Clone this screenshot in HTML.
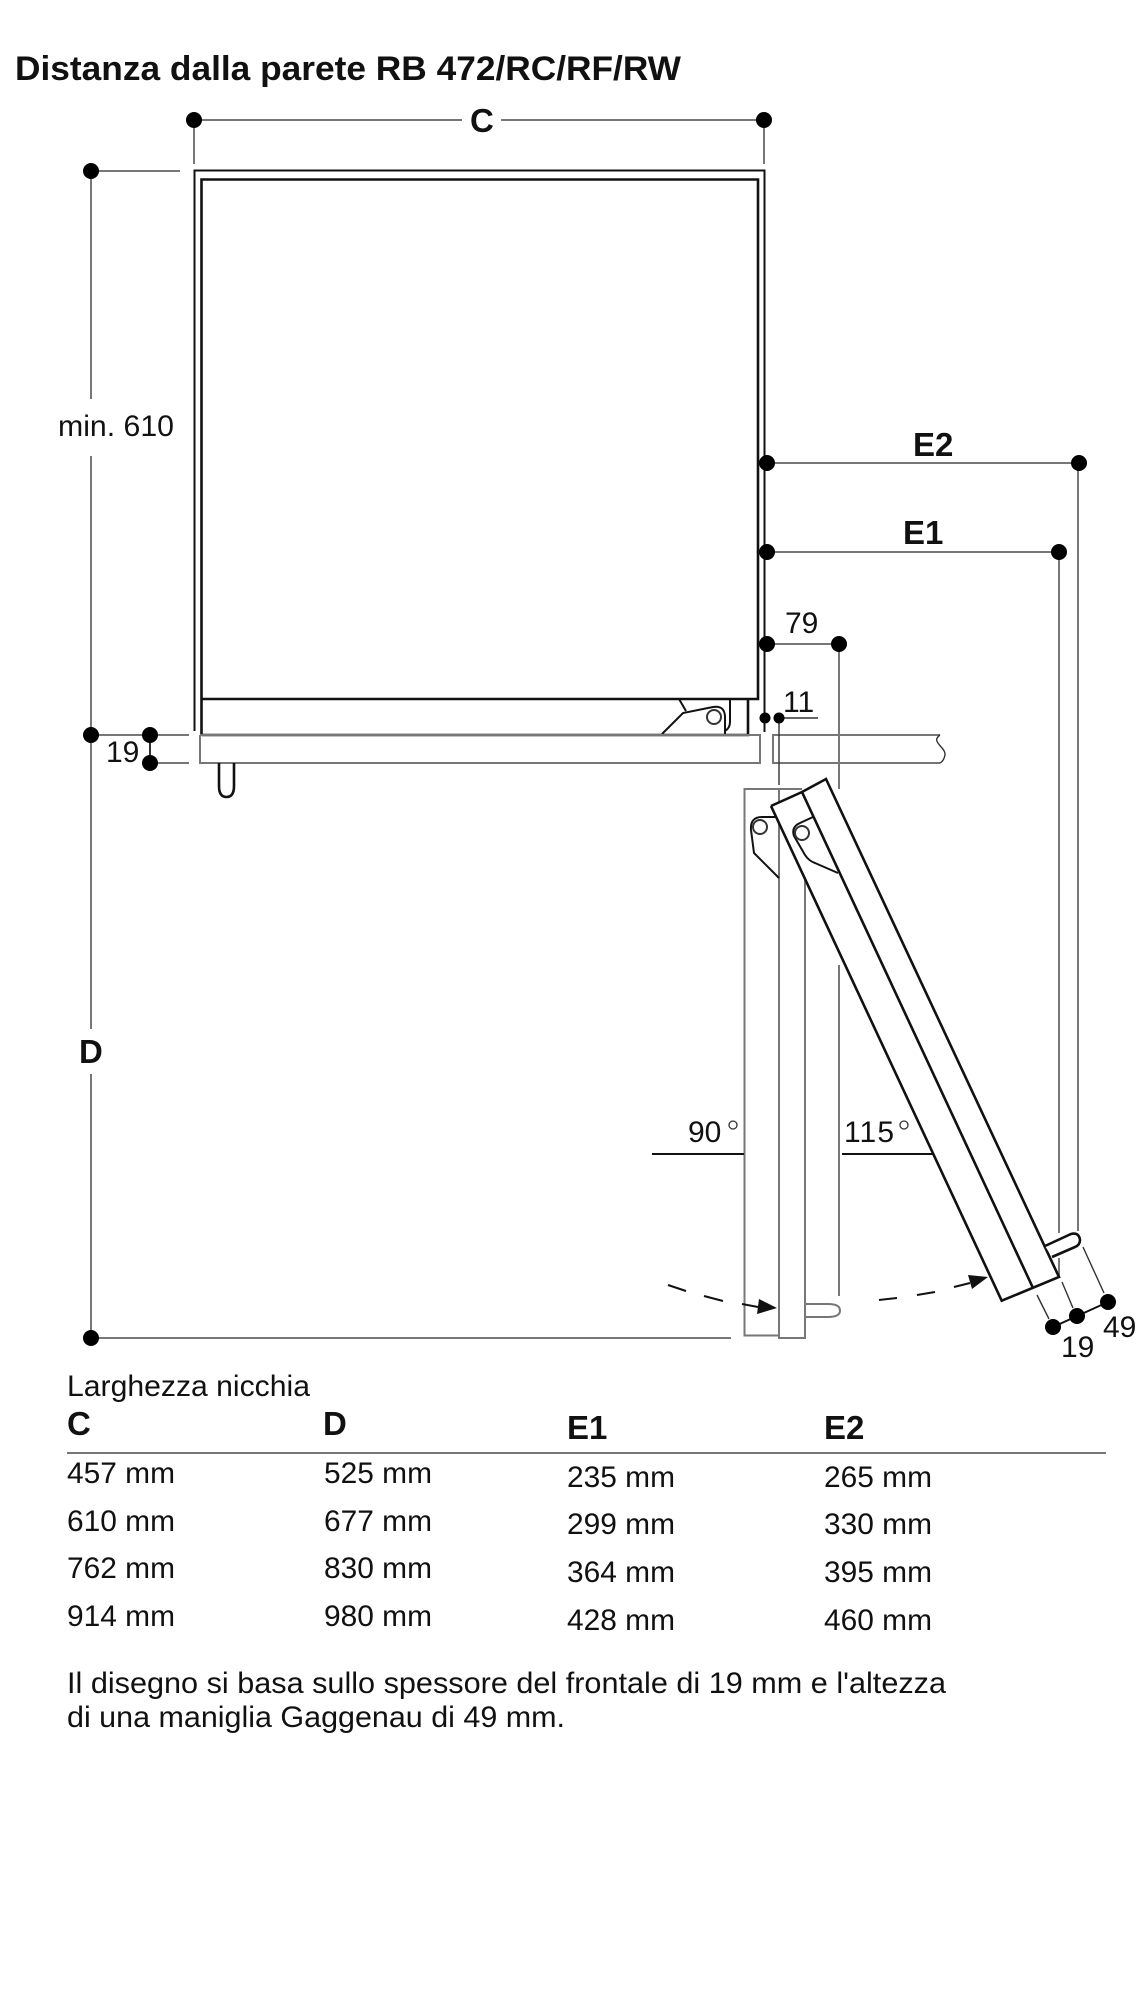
<!DOCTYPE html>
<html lang="it"><head><meta charset="utf-8"><title>Distanza dalla parete</title>
<style>html,body{margin:0;padding:0;background:#fff}svg{display:block}
text{font-family:"Liberation Sans",Arial,sans-serif;fill:#111}
.t{font-size:30px}.h{font-size:33px;font-weight:bold}
.g{stroke:#777;stroke-width:2;fill:none}.k{stroke:#111;stroke-width:2.6;fill:none}.m{stroke:#333;stroke-width:2;fill:none}
.k2{stroke-width:2}.m1{stroke-width:1.4}
</style></head><body>
<svg xmlns="http://www.w3.org/2000/svg" width="1148" height="2000" viewBox="0 0 1148 2000">
<rect width="1148" height="2000" fill="#fff"/>
<text x="15" y="80" font-size="34" font-weight="bold" textLength="666" lengthAdjust="spacingAndGlyphs">Distanza dalla parete RB 472/RC/RF/RW</text>

<!-- dimension C -->
<path class="g" d="M194 120H462M501 120H764M194 120V164M764 120V164"/>
<text x="470" y="132" class="h">C</text>
<!-- dimension D / min -->
<path class="g" d="M91 171H180M91 171V399M91 456V1029M91 1074V1338M91 1338H731M91 735H189M150 763H189"/>
<path class="m" d="M150 735V763"/>
<text x="58" y="436" class="t" textLength="116" lengthAdjust="spacingAndGlyphs">min. 610</text>
<text x="79" y="1063" class="h">D</text>
<text x="106" y="762" class="t">19</text>

<!-- cabinet -->
<path class="k k2" d="M194.500 731V170.500H764.500V732"/>
<path class="k" d="M201.500 734V179.500H758V699H201.500"/>
<path class="k" d="M201.500 735H748V699"/>
<path class="k k2" d="M662 734L683 713L713 707Q724 705 725 716V735M679 699L686 711M730 700V722Q730 728 725 731"/>
<circle cx="714" cy="717" r="7" fill="#fff" class="m"/>

<!-- worktop -->
<path class="g" d="M200 735V763H760V735H200M940 735H773V763H940"/>
<path class="m m1" d="M940 735C930 742 946 747 945 755C944 760 942 762 940 763"/>
<path class="k" d="M219 763V786Q219 797 226.500 797Q234 797 234 786V763"/>

<!-- E dims and others -->
<path class="g" d="M767 463H1078V1231M767 552H1059V1233M1059 1258V1277M767 644H839V789M839 965V1296"/>
<path class="m m1" d="M779 718H818M779 718V785"/>
<text x="903" y="544" class="h">E1</text>
<text x="913" y="456" class="h">E2</text>
<text x="785" y="633" class="t">79</text>
<text x="783" y="712" class="t">11</text>

<!-- 90 door -->
<path class="g" d="M802 789H744.500V1335.500H779M779 789V1338H805V879M805 1304H828Q840 1304 840 1310.500Q840 1317 828 1317H805"/>
<path class="k k2" d="M776 817H762Q750 817 751 830L754 853L779 878"/>
<circle cx="760" cy="827" r="7" fill="#fff" class="m"/>

<!-- rotated door -->
<polygon points="771,806 802,792 826,778 1059,1277 1033,1288 1001.700,1300.700" fill="#fff"/>
<path class="k" d="M771 806L802 792L826 779L1059 1277L1001.700 1300.700L771 806M802 792L1033 1288"/>
<path class="k k2" d="M813 817L800 823Q791 827 794 836L805 855Q809 861 815 863L838 873"/>
<circle cx="802" cy="833" r="7" fill="#fff" class="m"/>
<path class="k" style="fill:#fff" d="M1045 1246L1071 1234Q1079 1232 1080 1240Q1080 1245 1075 1247L1052 1257"/>

<!-- 90/115 -->
<path class="k k2" d="M652 1154H744M842 1154H933"/>
<text x="688" y="1142" class="t">90</text>
<circle cx="733" cy="1125" r="4" fill="none" stroke="#333" stroke-width="1.300"/>
<text x="844" y="1142" class="t" textLength="50">115</text>
<circle cx="904" cy="1125" r="4" fill="none" stroke="#333" stroke-width="1.300"/>

<!-- arrows -->
<path class="k k2" d="M668 1285L686 1291M704 1296L723 1301M742 1304L758 1307M879 1300L897 1298M917 1295L935 1292M954 1287L970 1283"/>
<polygon points="777,1308 759,1299 757,1314" fill="#111"/>
<polygon points="988,1277 968,1275 972,1289" fill="#111"/>

<!-- 19/49 rotated dim -->
<path class="m m1" d="M1037 1295L1049 1319M1062 1282L1073 1308M1083 1247L1104 1293"/>
<path class="k k2" d="M1053 1327L1108 1302"/>
<text x="1061" y="1357" class="t">19</text>
<text x="1103" y="1337" class="t">49</text>

<!-- dots -->
<g fill="#000">
<circle cx="194" cy="120" r="8"/><circle cx="764" cy="120" r="8"/><circle cx="91" cy="171" r="8"/>
<circle cx="91" cy="735" r="8"/><circle cx="150" cy="735" r="8"/><circle cx="150" cy="763" r="8"/><circle cx="91" cy="1338" r="8"/>
<circle cx="767" cy="463" r="8"/><circle cx="1079" cy="463" r="8"/><circle cx="767" cy="552" r="8"/><circle cx="1059" cy="552" r="8"/>
<circle cx="767" cy="644" r="8"/><circle cx="839" cy="644" r="8"/><circle cx="765" cy="718" r="5.500"/><circle cx="779" cy="718" r="5.500"/>
<circle cx="1053" cy="1327" r="8"/><circle cx="1077" cy="1316" r="8"/><circle cx="1108" cy="1302" r="8"/>
</g>

<!-- table -->
<text x="67" y="1396" class="t" textLength="243" lengthAdjust="spacingAndGlyphs">Larghezza nicchia</text>
<text x="67" y="1435" class="h">C</text><text x="323" y="1435" class="h">D</text><text x="567" y="1439" class="h">E1</text><text x="824" y="1439" class="h">E2</text>
<path class="g" d="M67 1453H1106"/>
<g class="t">
<text x="67" y="1483" textLength="108" lengthAdjust="spacingAndGlyphs">457 mm</text><text x="324" y="1483" textLength="108" lengthAdjust="spacingAndGlyphs">525 mm</text><text x="567" y="1487" textLength="108" lengthAdjust="spacingAndGlyphs">235 mm</text><text x="824" y="1487" textLength="108" lengthAdjust="spacingAndGlyphs">265 mm</text>
<text x="67" y="1531" textLength="108" lengthAdjust="spacingAndGlyphs">610 mm</text><text x="324" y="1531" textLength="108" lengthAdjust="spacingAndGlyphs">677 mm</text><text x="567" y="1534" textLength="108" lengthAdjust="spacingAndGlyphs">299 mm</text><text x="824" y="1534" textLength="108" lengthAdjust="spacingAndGlyphs">330 mm</text>
<text x="67" y="1578" textLength="108" lengthAdjust="spacingAndGlyphs">762 mm</text><text x="324" y="1578" textLength="108" lengthAdjust="spacingAndGlyphs">830 mm</text><text x="567" y="1582" textLength="108" lengthAdjust="spacingAndGlyphs">364 mm</text><text x="824" y="1582" textLength="108" lengthAdjust="spacingAndGlyphs">395 mm</text>
<text x="67" y="1626" textLength="108" lengthAdjust="spacingAndGlyphs">914 mm</text><text x="324" y="1626" textLength="108" lengthAdjust="spacingAndGlyphs">980 mm</text><text x="567" y="1630" textLength="108" lengthAdjust="spacingAndGlyphs">428 mm</text><text x="824" y="1630" textLength="108" lengthAdjust="spacingAndGlyphs">460 mm</text>
<text x="67" y="1693" textLength="879" lengthAdjust="spacingAndGlyphs">Il disegno si basa sullo spessore del frontale di 19 mm e l'altezza</text>
<text x="67" y="1727" textLength="498" lengthAdjust="spacingAndGlyphs">di una maniglia Gaggenau di 49 mm.</text>
</g>
</svg>
</body></html>
